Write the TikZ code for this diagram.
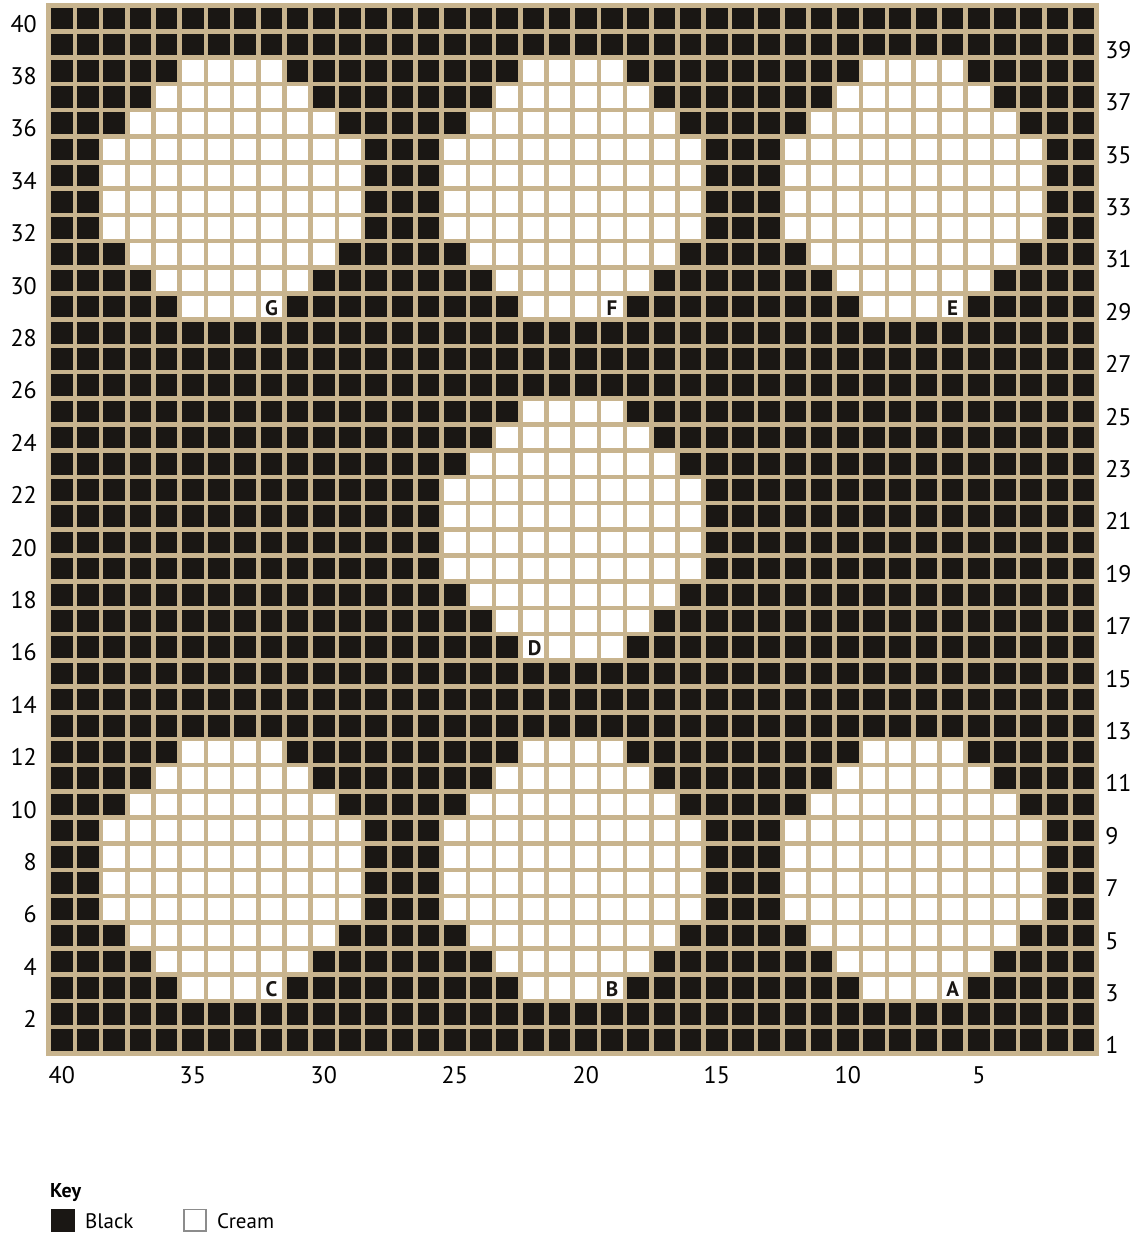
\documentclass[tikz,border=0pt]{standalone}
\usepackage{fontspec}
\setmainfont{PT Sans}
\definecolor{chartblack}{HTML}{1A1714}
\definecolor{gridtan}{HTML}{C8B48E}
\definecolor{keygray}{HTML}{8C8C8C}
\begin{document}
\begin{tikzpicture}[x=26.2pt,y=26.2pt,
  gridline/.style={gridtan, line width=4.5pt},
  axislabel/.style={font=\fontsize{24}{24}\selectfont, inner sep=0pt},
  motiflabel/.style={font=\bfseries\fontsize{21}{21}\selectfont, inner sep=0pt, text=chartblack},
  keytext/.style={font=\fontsize{21}{21}\selectfont, inner sep=0pt, anchor=base west}]
\useasboundingbox (-1.859,-6.935) rectangle (41.538,40.202);
% background of black stitches
\fill[chartblack] (0,0) rectangle (40,40);
% cream motifs
\foreach \a/\b in {2/2,15/2,28/2,15/15,2/28,15/28,28/28} {
  \fill[white] (\a+3,\b) -- (\a+7,\b) -- (\a+7,\b+1) -- (\a+8,\b+1) -- (\a+8,\b+2) -- (\a+9,\b+2)
    -- (\a+9,\b+3) -- (\a+10,\b+3) -- (\a+10,\b+7) -- (\a+9,\b+7) -- (\a+9,\b+8) -- (\a+8,\b+8)
    -- (\a+8,\b+9) -- (\a+7,\b+9) -- (\a+7,\b+10) -- (\a+3,\b+10) -- (\a+3,\b+9) -- (\a+2,\b+9)
    -- (\a+2,\b+8) -- (\a+1,\b+8) -- (\a+1,\b+7) -- (\a,\b+7) -- (\a,\b+3) -- (\a+1,\b+3)
    -- (\a+1,\b+2) -- (\a+2,\b+2) -- (\a+2,\b+1) -- (\a+3,\b+1) -- cycle;
}
% grid lines
\foreach \i in {1,...,39} {
  \draw[gridline] (\i,0) -- (\i,40);
  \draw[gridline] (0,\i) -- (40,\i);
}
\draw[gridline] (0,0) rectangle (40,40);
% motif letters
\node[motiflabel] (labA) at (34.5,2.45) {A};
\node[motiflabel] (labB) at (21.5,2.45) {B};
\node[motiflabel] (labC) at (8.5,2.45) {C};
\node[motiflabel] (labD) at (18.55,15.45) {D};
\node[motiflabel] (labE) at (34.5,28.45) {E};
\node[motiflabel] (labF) at (21.5,28.45) {F};
\node[motiflabel] (labG) at (8.5,28.45) {G};
% row numbers
\foreach \n in {2,4,...,40} {
  \node[axislabel, anchor=base east] (rowL\n) at (-0.447,\n-1.02) {\n};
}
\foreach \n in {1,3,...,39} {
  \node[axislabel, anchor=base west] (rowR\n) at (40.32,\n-1.02) {\n};
}
% column numbers
\foreach \c in {40,35,...,5} {
  \node[axislabel, anchor=base] (col\c) at ({40-\c+0.5},-1.134) {\c};
}
% key
\node[keytext, font=\bfseries\fontsize{20}{20}\selectfont] (keytitle) at (0.05,-5.485) {Key};
\fill[chartblack] (0.088,-5.943) rectangle (1.004,-6.821);
\node[keytext] (keyblack) at (1.385,-6.67) {Black};
\draw[keygray, fill=white, line width=1.5pt] (5.16,-5.97) rectangle (6.01,-6.79);
\node[keytext] (keycream) at (6.424,-6.67) {Cream};
\end{tikzpicture}
\end{document}
